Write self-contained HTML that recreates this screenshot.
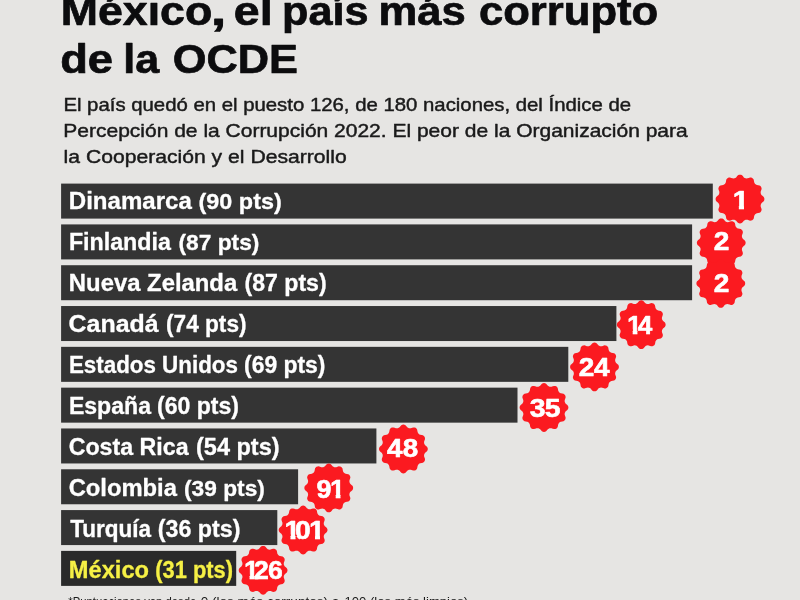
<!DOCTYPE html>
<html lang="es"><head><meta charset="utf-8"><title>México, el país más corrupto de la OCDE</title>
<style>
html,body{margin:0;padding:0;background:#e6e5e3;overflow:hidden}
svg{display:block;font-family:"Liberation Sans",sans-serif}
</style></head><body>
<svg width="800" height="600" viewBox="0 0 800 600">
<rect width="800" height="600" fill="#e6e5e3"/>
<defs><clipPath id="n0"><rect x="-0.45" y="-18.75" width="8.87" height="14.16"/><rect x="3.87" y="-4.69" width="4.55" height="0.60"/><rect x="3.87" y="-4.19" width="4.55" height="0.60"/><rect x="3.87" y="-3.69" width="4.55" height="0.60"/><rect x="3.87" y="-3.19" width="4.55" height="0.60"/><rect x="3.87" y="-2.69" width="4.55" height="0.60"/><rect x="3.87" y="-2.19" width="4.55" height="0.60"/><rect x="3.87" y="-1.69" width="4.55" height="0.60"/><rect x="3.87" y="-1.19" width="4.55" height="0.60"/><rect x="3.87" y="-0.69" width="4.55" height="0.60"/><rect x="3.87" y="-0.19" width="4.55" height="1.70"/></clipPath><clipPath id="n3"><rect x="-0.45" y="-18.75" width="8.87" height="14.16"/><rect x="3.87" y="-4.69" width="4.55" height="0.60"/><rect x="3.87" y="-4.19" width="4.55" height="0.60"/><rect x="3.87" y="-3.69" width="4.55" height="0.60"/><rect x="3.87" y="-3.19" width="4.55" height="0.60"/><rect x="3.87" y="-2.69" width="4.55" height="0.60"/><rect x="3.87" y="-2.19" width="4.55" height="0.60"/><rect x="3.87" y="-1.69" width="4.55" height="0.60"/><rect x="3.87" y="-1.19" width="4.55" height="0.60"/><rect x="3.87" y="-0.69" width="4.55" height="0.60"/><rect x="3.87" y="-0.19" width="4.55" height="1.70"/><rect x="8.62" y="-18.75" width="14.78" height="14.16"/><rect x="8.62" y="-4.69" width="14.78" height="0.60"/><rect x="8.62" y="-4.19" width="14.78" height="0.60"/><rect x="8.62" y="-3.69" width="14.78" height="0.60"/><rect x="16.75" y="-3.19" width="4.28" height="0.60"/><rect x="16.75" y="-2.69" width="4.28" height="0.60"/><rect x="16.75" y="-2.19" width="4.28" height="0.60"/><rect x="16.75" y="-1.69" width="4.28" height="0.60"/><rect x="16.75" y="-1.19" width="4.28" height="0.60"/><rect x="16.75" y="-0.69" width="4.28" height="0.60"/><rect x="16.75" y="-0.19" width="4.28" height="1.70"/></clipPath><clipPath id="n7"><rect x="-0.45" y="-19.00" width="13.40" height="14.41"/><rect x="-0.08" y="-4.69" width="12.65" height="0.60"/><rect x="-0.08" y="-4.19" width="12.53" height="0.60"/><rect x="-0.08" y="-3.69" width="12.28" height="0.60"/><rect x="-0.08" y="-3.19" width="12.15" height="0.60"/><rect x="0.17" y="-2.69" width="11.65" height="0.60"/><rect x="0.30" y="-2.19" width="11.28" height="0.60"/><rect x="0.55" y="-1.69" width="10.65" height="0.60"/><rect x="0.93" y="-1.19" width="9.90" height="0.60"/><rect x="1.43" y="-0.69" width="8.90" height="0.60"/><rect x="2.05" y="-0.19" width="7.53" height="1.70"/><rect x="13.15" y="-19.00" width="8.87" height="14.41"/><rect x="17.47" y="-4.69" width="4.55" height="0.60"/><rect x="17.47" y="-4.19" width="4.55" height="0.60"/><rect x="17.47" y="-3.69" width="4.55" height="0.60"/><rect x="17.47" y="-3.19" width="4.55" height="0.60"/><rect x="17.47" y="-2.69" width="4.55" height="0.60"/><rect x="17.47" y="-2.19" width="4.55" height="0.60"/><rect x="17.47" y="-1.69" width="4.55" height="0.60"/><rect x="17.47" y="-1.19" width="4.55" height="0.60"/><rect x="17.47" y="-0.69" width="4.55" height="0.60"/><rect x="17.47" y="-0.19" width="4.55" height="1.70"/></clipPath><clipPath id="n8"><rect x="-0.45" y="-19.00" width="8.87" height="14.41"/><rect x="3.87" y="-4.69" width="4.55" height="0.60"/><rect x="3.87" y="-4.19" width="4.55" height="0.60"/><rect x="3.87" y="-3.69" width="4.55" height="0.60"/><rect x="3.87" y="-3.19" width="4.55" height="0.60"/><rect x="3.87" y="-2.69" width="4.55" height="0.60"/><rect x="3.87" y="-2.19" width="4.55" height="0.60"/><rect x="3.87" y="-1.69" width="4.55" height="0.60"/><rect x="3.87" y="-1.19" width="4.55" height="0.60"/><rect x="3.87" y="-0.69" width="4.55" height="0.60"/><rect x="3.87" y="-0.19" width="4.55" height="1.70"/><rect x="8.62" y="-19.00" width="13.15" height="14.41"/><rect x="9.00" y="-4.69" width="12.53" height="0.60"/><rect x="9.12" y="-4.19" width="12.28" height="0.60"/><rect x="9.25" y="-3.69" width="11.90" height="0.60"/><rect x="9.37" y="-3.19" width="11.65" height="0.60"/><rect x="9.62" y="-2.69" width="11.15" height="0.60"/><rect x="9.87" y="-2.19" width="10.65" height="0.60"/><rect x="10.12" y="-1.69" width="10.15" height="0.60"/><rect x="10.50" y="-1.19" width="9.40" height="0.60"/><rect x="11.00" y="-0.69" width="8.40" height="0.60"/><rect x="11.62" y="-0.19" width="7.15" height="1.70"/><rect x="21.97" y="-19.00" width="8.87" height="14.41"/><rect x="26.29" y="-4.69" width="4.55" height="0.60"/><rect x="26.29" y="-4.19" width="4.55" height="0.60"/><rect x="26.29" y="-3.69" width="4.55" height="0.60"/><rect x="26.29" y="-3.19" width="4.55" height="0.60"/><rect x="26.29" y="-2.69" width="4.55" height="0.60"/><rect x="26.29" y="-2.19" width="4.55" height="0.60"/><rect x="26.29" y="-1.69" width="4.55" height="0.60"/><rect x="26.29" y="-1.19" width="4.55" height="0.60"/><rect x="26.29" y="-0.69" width="4.55" height="0.60"/><rect x="26.29" y="-0.19" width="4.55" height="1.70"/></clipPath><clipPath id="n9"><rect x="-0.45" y="-19.00" width="8.87" height="14.41"/><rect x="3.87" y="-4.69" width="4.55" height="0.60"/><rect x="3.87" y="-4.19" width="4.55" height="0.60"/><rect x="3.87" y="-3.69" width="4.55" height="0.60"/><rect x="3.87" y="-3.19" width="4.55" height="0.60"/><rect x="3.87" y="-2.69" width="4.55" height="0.60"/><rect x="3.87" y="-2.19" width="4.55" height="0.60"/><rect x="3.87" y="-1.69" width="4.55" height="0.60"/><rect x="3.87" y="-1.19" width="4.55" height="0.60"/><rect x="3.87" y="-0.69" width="4.55" height="0.60"/><rect x="3.87" y="-0.19" width="4.55" height="1.70"/><rect x="8.62" y="-19.00" width="13.40" height="14.41"/><rect x="9.25" y="-4.69" width="6.15" height="0.60"/><rect x="8.87" y="-4.19" width="6.03" height="0.60"/><rect x="8.62" y="-3.69" width="13.40" height="0.60"/><rect x="8.62" y="-3.19" width="13.40" height="0.60"/><rect x="8.62" y="-2.69" width="13.40" height="0.60"/><rect x="8.62" y="-2.19" width="13.40" height="0.60"/><rect x="8.62" y="-1.69" width="13.40" height="0.60"/><rect x="8.62" y="-1.19" width="13.40" height="0.60"/><rect x="8.62" y="-0.69" width="13.40" height="0.60"/><rect x="8.62" y="-0.19" width="13.40" height="1.70"/><rect x="22.22" y="-19.00" width="13.40" height="14.41"/><rect x="22.60" y="-4.69" width="13.03" height="0.60"/><rect x="22.72" y="-4.19" width="12.90" height="0.60"/><rect x="22.85" y="-3.69" width="12.65" height="0.60"/><rect x="23.10" y="-3.19" width="12.28" height="0.60"/><rect x="23.22" y="-2.69" width="12.03" height="0.60"/><rect x="23.60" y="-2.19" width="11.40" height="0.60"/><rect x="23.85" y="-1.69" width="10.78" height="0.60"/><rect x="24.35" y="-1.19" width="9.90" height="0.60"/><rect x="24.85" y="-0.69" width="8.90" height="0.60"/><rect x="25.47" y="-0.19" width="7.65" height="1.70"/></clipPath></defs>
<rect x="61.1" y="183.60" width="651.70" height="35.0" fill="#343434"/>
<rect x="61.1" y="224.41" width="631.00" height="35.0" fill="#343434"/>
<rect x="61.1" y="265.22" width="631.00" height="35.0" fill="#343434"/>
<rect x="61.1" y="306.03" width="555.30" height="35.0" fill="#343434"/>
<rect x="61.1" y="346.84" width="507.20" height="35.0" fill="#343434"/>
<rect x="61.1" y="387.65" width="456.40" height="35.0" fill="#343434"/>
<rect x="61.1" y="428.46" width="315.30" height="35.0" fill="#343434"/>
<rect x="61.1" y="469.27" width="237.00" height="35.0" fill="#343434"/>
<rect x="61.1" y="510.08" width="216.20" height="35.0" fill="#343434"/>
<rect x="61.1" y="550.89" width="175.10" height="35.0" fill="#2a2a2a"/>
<text transform="translate(60.70,24.50) scale(1.1096,1)" font-weight="bold" font-size="40.3" fill="#0c0c0e" stroke="#0c0c0e" stroke-width="0.7" stroke-linejoin="round">México</text>
<text transform="translate(210.67,24.50) scale(1.3913,1)" font-weight="bold" font-size="40.3" fill="#0c0c0e" stroke="#0c0c0e" stroke-width="0.7" stroke-linejoin="round">,</text>
<text transform="translate(233.87,24.50) scale(1.1556,1)" font-weight="bold" font-size="40.3" fill="#0c0c0e" stroke="#0c0c0e" stroke-width="0.7" stroke-linejoin="round">el</text>
<text transform="translate(282.05,24.50) scale(1.0728,1)" font-weight="bold" font-size="40.3" fill="#0c0c0e" stroke="#0c0c0e" stroke-width="0.7" stroke-linejoin="round">país</text>
<text transform="translate(378.52,24.50) scale(1.0820,1)" font-weight="bold" font-size="40.3" fill="#0c0c0e" stroke="#0c0c0e" stroke-width="0.7" stroke-linejoin="round">más</text>
<text transform="translate(478.88,24.50) scale(1.0831,1)" font-weight="bold" font-size="40.3" fill="#0c0c0e" stroke="#0c0c0e" stroke-width="0.7" stroke-linejoin="round">corrupto</text>
<text transform="translate(60.13,72.70) scale(1.1250,1)" font-weight="bold" font-size="40.3" fill="#0c0c0e" stroke="#0c0c0e" stroke-width="0.7" stroke-linejoin="round">de</text>
<text transform="translate(123.32,72.70) scale(1.0672,1)" font-weight="bold" font-size="40.3" fill="#0c0c0e" stroke="#0c0c0e" stroke-width="0.7" stroke-linejoin="round">la</text>
<text transform="translate(172.72,72.70) scale(1.0764,1)" font-weight="bold" font-size="40.3" fill="#0c0c0e" stroke="#0c0c0e" stroke-width="0.7" stroke-linejoin="round">OCDE</text>
<text transform="translate(63.38,111.00) scale(1.0828,1)" font-weight="normal" font-size="18.8" fill="#1a1a1a" stroke="#1a1a1a" stroke-width="0.45" stroke-linejoin="round">El país quedó en el puesto 126, de 180 naciones, del Índice de</text>
<text transform="translate(63.32,137.20) scale(1.1175,1)" font-weight="normal" font-size="18.8" fill="#1a1a1a" stroke="#1a1a1a" stroke-width="0.45" stroke-linejoin="round">Percepción de la Corrupción 2022. El peor de la Organización para</text>
<text transform="translate(63.59,163.40) scale(1.1243,1)" font-weight="normal" font-size="18.8" fill="#1a1a1a" stroke="#1a1a1a" stroke-width="0.45" stroke-linejoin="round">la Cooperación y el Desarrollo</text>
<text transform="translate(68.83,209.00) scale(1.0460,1)" font-weight="bold" font-size="23.0" fill="#ffffff" stroke="#ffffff" stroke-width="0.3" stroke-linejoin="round">Dinamarca</text>
<text transform="translate(198.48,209.00) scale(1.0188,1)" font-weight="bold" font-size="23.0" fill="#ffffff" stroke="#ffffff" stroke-width="0.3" stroke-linejoin="round">(90 pts)</text>
<text transform="translate(68.88,250.00) scale(1.0110,1)" font-weight="bold" font-size="23.0" fill="#ffffff" stroke="#ffffff" stroke-width="0.3" stroke-linejoin="round">Finlandia</text>
<text transform="translate(178.51,250.00) scale(0.9893,1)" font-weight="bold" font-size="23.0" fill="#ffffff" stroke="#ffffff" stroke-width="0.3" stroke-linejoin="round">(87 pts)</text>
<text transform="translate(68.84,291.00) scale(1.0379,1)" font-weight="bold" font-size="23.0" fill="#ffffff" stroke="#ffffff" stroke-width="0.3" stroke-linejoin="round">Nueva Zelanda</text>
<text transform="translate(244.50,291.00) scale(1.0044,1)" font-weight="bold" font-size="23.0" fill="#ffffff" stroke="#ffffff" stroke-width="0.3" stroke-linejoin="round">(87 pts)</text>
<text transform="translate(68.62,332.00) scale(1.0827,1)" font-weight="bold" font-size="23.0" fill="#ffffff" stroke="#ffffff" stroke-width="0.3" stroke-linejoin="round">Canadá</text>
<text transform="translate(166.02,332.00) scale(0.9843,1)" font-weight="bold" font-size="23.0" fill="#ffffff" stroke="#ffffff" stroke-width="0.3" stroke-linejoin="round">(74 pts)</text>
<text transform="translate(68.94,373.00) scale(0.9728,1)" font-weight="bold" font-size="23.0" fill="#ffffff" stroke="#ffffff" stroke-width="0.3" stroke-linejoin="round">Estados Unidos</text>
<text transform="translate(244.00,373.00) scale(0.9969,1)" font-weight="bold" font-size="23.0" fill="#ffffff" stroke="#ffffff" stroke-width="0.3" stroke-linejoin="round">(69 pts)</text>
<text transform="translate(68.89,414.00) scale(1.0043,1)" font-weight="bold" font-size="23.0" fill="#ffffff" stroke="#ffffff" stroke-width="0.3" stroke-linejoin="round">España</text>
<text transform="translate(157.00,414.00) scale(1.0031,1)" font-weight="bold" font-size="23.0" fill="#ffffff" stroke="#ffffff" stroke-width="0.3" stroke-linejoin="round">(60 pts)</text>
<text transform="translate(68.69,455.00) scale(1.0089,1)" font-weight="bold" font-size="23.0" fill="#ffffff" stroke="#ffffff" stroke-width="0.3" stroke-linejoin="round">Costa Rica</text>
<text transform="translate(195.98,455.00) scale(1.0232,1)" font-weight="bold" font-size="23.0" fill="#ffffff" stroke="#ffffff" stroke-width="0.3" stroke-linejoin="round">(54 pts)</text>
<text transform="translate(68.67,496.00) scale(1.0341,1)" font-weight="bold" font-size="23.0" fill="#ffffff" stroke="#ffffff" stroke-width="0.3" stroke-linejoin="round">Colombia</text>
<text transform="translate(184.01,496.00) scale(0.9893,1)" font-weight="bold" font-size="23.0" fill="#ffffff" stroke="#ffffff" stroke-width="0.3" stroke-linejoin="round">(39 pts)</text>
<text transform="translate(70.16,537.00) scale(0.9800,1)" font-weight="bold" font-size="23.0" fill="#ffffff" stroke="#ffffff" stroke-width="0.3" stroke-linejoin="round">Turquía</text>
<text transform="translate(157.74,537.00) scale(1.0125,1)" font-weight="bold" font-size="23.0" fill="#ffffff" stroke="#ffffff" stroke-width="0.3" stroke-linejoin="round">(36 pts)</text>
<text transform="translate(68.86,578.00) scale(1.0278,1)" font-weight="bold" font-size="23.0" fill="#f6f045" stroke="#f6f045" stroke-width="0.3" stroke-linejoin="round">México</text>
<text transform="translate(155.30,578.00) scale(0.9498,1)" font-weight="bold" font-size="23.0" fill="#f6f045" stroke="#f6f045" stroke-width="0.3" stroke-linejoin="round">(31 pts)</text>
<path d="M740.00,174.70 L741.06,174.86 L742.08,175.35 L743.00,176.35 L743.83,177.38 L744.68,177.97 L745.56,178.33 L746.51,178.46 L747.54,178.37 L748.78,177.90 L750.08,177.49 L751.20,177.58 L752.20,177.97 L753.04,178.64 L753.68,179.57 L753.97,180.89 L754.18,182.20 L754.62,183.15 L755.20,183.90 L755.95,184.48 L756.90,184.92 L758.21,185.13 L759.53,185.42 L760.46,186.06 L761.13,186.90 L761.52,187.90 L761.61,189.02 L761.20,190.32 L760.73,191.56 L760.64,192.59 L760.77,193.54 L761.13,194.42 L761.72,195.27 L762.75,196.10 L763.75,197.02 L764.24,198.04 L764.40,199.10 L764.24,200.16 L763.75,201.18 L762.75,202.10 L761.72,202.93 L761.13,203.78 L760.77,204.66 L760.64,205.61 L760.73,206.64 L761.20,207.88 L761.61,209.18 L761.52,210.30 L761.13,211.30 L760.46,212.14 L759.53,212.78 L758.21,213.07 L756.90,213.28 L755.95,213.72 L755.20,214.30 L754.62,215.05 L754.18,216.00 L753.97,217.31 L753.68,218.63 L753.04,219.56 L752.20,220.23 L751.20,220.62 L750.08,220.71 L748.78,220.30 L747.54,219.83 L746.51,219.74 L745.56,219.87 L744.68,220.23 L743.83,220.82 L743.00,221.85 L742.08,222.85 L741.06,223.34 L740.00,223.50 L738.94,223.34 L737.92,222.85 L737.00,221.85 L736.17,220.82 L735.32,220.23 L734.44,219.87 L733.49,219.74 L732.46,219.83 L731.22,220.30 L729.92,220.71 L728.80,220.62 L727.80,220.23 L726.96,219.56 L726.32,218.63 L726.03,217.31 L725.82,216.00 L725.38,215.05 L724.80,214.30 L724.05,213.72 L723.10,213.28 L721.79,213.07 L720.47,212.78 L719.54,212.14 L718.87,211.30 L718.48,210.30 L718.39,209.18 L718.80,207.88 L719.27,206.64 L719.36,205.61 L719.23,204.66 L718.87,203.78 L718.28,202.93 L717.25,202.10 L716.25,201.18 L715.76,200.16 L715.60,199.10 L715.76,198.04 L716.25,197.02 L717.25,196.10 L718.28,195.27 L718.87,194.42 L719.23,193.54 L719.36,192.59 L719.27,191.56 L718.80,190.32 L718.39,189.02 L718.48,187.90 L718.87,186.90 L719.54,186.06 L720.47,185.42 L721.79,185.13 L723.10,184.92 L724.05,184.48 L724.80,183.90 L725.38,183.15 L725.82,182.20 L726.03,180.89 L726.32,179.57 L726.96,178.64 L727.80,177.97 L728.80,177.58 L729.92,177.49 L731.22,177.90 L732.46,178.37 L733.49,178.46 L734.44,178.33 L735.32,177.97 L736.17,177.38 L737.00,176.35 L737.92,175.35 L738.94,174.86Z" fill="#fb1a20"/>
<path d="M721.25,218.40 L722.31,218.56 L723.33,219.05 L724.25,220.05 L725.08,221.08 L725.93,221.67 L726.81,222.03 L727.76,222.16 L728.79,222.07 L730.03,221.60 L731.33,221.19 L732.45,221.28 L733.45,221.67 L734.29,222.34 L734.93,223.27 L735.22,224.59 L735.43,225.90 L735.87,226.85 L736.45,227.60 L737.20,228.18 L738.15,228.62 L739.46,228.83 L740.78,229.12 L741.71,229.76 L742.38,230.60 L742.77,231.60 L742.86,232.72 L742.45,234.02 L741.98,235.26 L741.89,236.29 L742.02,237.24 L742.38,238.12 L742.97,238.97 L744.00,239.80 L745.00,240.72 L745.49,241.74 L745.65,242.80 L745.49,243.86 L745.00,244.88 L744.00,245.80 L742.97,246.63 L742.38,247.48 L742.02,248.36 L741.89,249.31 L741.98,250.34 L742.45,251.58 L742.86,252.88 L742.77,254.00 L742.38,255.00 L741.71,255.84 L740.78,256.48 L739.46,256.77 L738.15,256.98 L737.20,257.42 L736.45,258.00 L735.87,258.75 L735.43,259.70 L735.22,261.01 L734.93,262.33 L734.29,263.26 L733.45,263.93 L732.45,264.32 L731.33,264.41 L730.03,264.00 L728.79,263.53 L727.76,263.44 L726.81,263.57 L725.93,263.93 L725.08,264.52 L724.25,265.55 L723.33,266.55 L722.31,267.04 L721.25,267.20 L720.19,267.04 L719.17,266.55 L718.25,265.55 L717.42,264.52 L716.57,263.93 L715.69,263.57 L714.74,263.44 L713.71,263.53 L712.47,264.00 L711.17,264.41 L710.05,264.32 L709.05,263.93 L708.21,263.26 L707.57,262.33 L707.28,261.01 L707.07,259.70 L706.63,258.75 L706.05,258.00 L705.30,257.42 L704.35,256.98 L703.04,256.77 L701.72,256.48 L700.79,255.84 L700.12,255.00 L699.73,254.00 L699.64,252.88 L700.05,251.58 L700.52,250.34 L700.61,249.31 L700.48,248.36 L700.12,247.48 L699.53,246.63 L698.50,245.80 L697.50,244.88 L697.01,243.86 L696.85,242.80 L697.01,241.74 L697.50,240.72 L698.50,239.80 L699.53,238.97 L700.12,238.12 L700.48,237.24 L700.61,236.29 L700.52,235.26 L700.05,234.02 L699.64,232.72 L699.73,231.60 L700.12,230.60 L700.79,229.76 L701.72,229.12 L703.04,228.83 L704.35,228.62 L705.30,228.18 L706.05,227.60 L706.63,226.85 L707.07,225.90 L707.28,224.59 L707.57,223.27 L708.21,222.34 L709.05,221.67 L710.05,221.28 L711.17,221.19 L712.47,221.60 L713.71,222.07 L714.74,222.16 L715.69,222.03 L716.57,221.67 L717.42,221.08 L718.25,220.05 L719.17,219.05 L720.19,218.56Z" fill="#fb1a20"/>
<path d="M720.80,259.00 L721.86,259.16 L722.88,259.65 L723.80,260.65 L724.63,261.68 L725.48,262.27 L726.36,262.63 L727.31,262.76 L728.34,262.67 L729.58,262.20 L730.88,261.79 L732.00,261.88 L733.00,262.27 L733.84,262.94 L734.48,263.87 L734.77,265.19 L734.98,266.50 L735.42,267.45 L736.00,268.20 L736.75,268.78 L737.70,269.22 L739.01,269.43 L740.33,269.72 L741.26,270.36 L741.93,271.20 L742.32,272.20 L742.41,273.32 L742.00,274.62 L741.53,275.86 L741.44,276.89 L741.57,277.84 L741.93,278.72 L742.52,279.57 L743.55,280.40 L744.55,281.32 L745.04,282.34 L745.20,283.40 L745.04,284.46 L744.55,285.48 L743.55,286.40 L742.52,287.23 L741.93,288.08 L741.57,288.96 L741.44,289.91 L741.53,290.94 L742.00,292.18 L742.41,293.48 L742.32,294.60 L741.93,295.60 L741.26,296.44 L740.33,297.08 L739.01,297.37 L737.70,297.58 L736.75,298.02 L736.00,298.60 L735.42,299.35 L734.98,300.30 L734.77,301.61 L734.48,302.93 L733.84,303.86 L733.00,304.53 L732.00,304.92 L730.88,305.01 L729.58,304.60 L728.34,304.13 L727.31,304.04 L726.36,304.17 L725.48,304.53 L724.63,305.12 L723.80,306.15 L722.88,307.15 L721.86,307.64 L720.80,307.80 L719.74,307.64 L718.72,307.15 L717.80,306.15 L716.97,305.12 L716.12,304.53 L715.24,304.17 L714.29,304.04 L713.26,304.13 L712.02,304.60 L710.72,305.01 L709.60,304.92 L708.60,304.53 L707.76,303.86 L707.12,302.93 L706.83,301.61 L706.62,300.30 L706.18,299.35 L705.60,298.60 L704.85,298.02 L703.90,297.58 L702.59,297.37 L701.27,297.08 L700.34,296.44 L699.67,295.60 L699.28,294.60 L699.19,293.48 L699.60,292.18 L700.07,290.94 L700.16,289.91 L700.03,288.96 L699.67,288.08 L699.08,287.23 L698.05,286.40 L697.05,285.48 L696.56,284.46 L696.40,283.40 L696.56,282.34 L697.05,281.32 L698.05,280.40 L699.08,279.57 L699.67,278.72 L700.03,277.84 L700.16,276.89 L700.07,275.86 L699.60,274.62 L699.19,273.32 L699.28,272.20 L699.67,271.20 L700.34,270.36 L701.27,269.72 L702.59,269.43 L703.90,269.22 L704.85,268.78 L705.60,268.20 L706.18,267.45 L706.62,266.50 L706.83,265.19 L707.12,263.87 L707.76,262.94 L708.60,262.27 L709.60,261.88 L710.72,261.79 L712.02,262.20 L713.26,262.67 L714.29,262.76 L715.24,262.63 L716.12,262.27 L716.97,261.68 L717.80,260.65 L718.72,259.65 L719.74,259.16Z" fill="#fb1a20"/>
<path d="M641.25,300.30 L642.31,300.46 L643.33,300.95 L644.25,301.95 L645.08,302.98 L645.93,303.57 L646.81,303.93 L647.76,304.06 L648.79,303.97 L650.03,303.50 L651.33,303.09 L652.45,303.18 L653.45,303.57 L654.29,304.24 L654.93,305.17 L655.22,306.49 L655.43,307.80 L655.87,308.75 L656.45,309.50 L657.20,310.08 L658.15,310.52 L659.46,310.73 L660.78,311.02 L661.71,311.66 L662.38,312.50 L662.77,313.50 L662.86,314.62 L662.45,315.92 L661.98,317.16 L661.89,318.19 L662.02,319.14 L662.38,320.02 L662.97,320.87 L664.00,321.70 L665.00,322.62 L665.49,323.64 L665.65,324.70 L665.49,325.76 L665.00,326.78 L664.00,327.70 L662.97,328.53 L662.38,329.38 L662.02,330.26 L661.89,331.21 L661.98,332.24 L662.45,333.48 L662.86,334.78 L662.77,335.90 L662.38,336.90 L661.71,337.74 L660.78,338.38 L659.46,338.67 L658.15,338.88 L657.20,339.32 L656.45,339.90 L655.87,340.65 L655.43,341.60 L655.22,342.91 L654.93,344.23 L654.29,345.16 L653.45,345.83 L652.45,346.22 L651.33,346.31 L650.03,345.90 L648.79,345.43 L647.76,345.34 L646.81,345.47 L645.93,345.83 L645.08,346.42 L644.25,347.45 L643.33,348.45 L642.31,348.94 L641.25,349.10 L640.19,348.94 L639.17,348.45 L638.25,347.45 L637.42,346.42 L636.57,345.83 L635.69,345.47 L634.74,345.34 L633.71,345.43 L632.47,345.90 L631.17,346.31 L630.05,346.22 L629.05,345.83 L628.21,345.16 L627.57,344.23 L627.28,342.91 L627.07,341.60 L626.63,340.65 L626.05,339.90 L625.30,339.32 L624.35,338.88 L623.04,338.67 L621.72,338.38 L620.79,337.74 L620.12,336.90 L619.73,335.90 L619.64,334.78 L620.05,333.48 L620.52,332.24 L620.61,331.21 L620.48,330.26 L620.12,329.38 L619.53,328.53 L618.50,327.70 L617.50,326.78 L617.01,325.76 L616.85,324.70 L617.01,323.64 L617.50,322.62 L618.50,321.70 L619.53,320.87 L620.12,320.02 L620.48,319.14 L620.61,318.19 L620.52,317.16 L620.05,315.92 L619.64,314.62 L619.73,313.50 L620.12,312.50 L620.79,311.66 L621.72,311.02 L623.04,310.73 L624.35,310.52 L625.30,310.08 L626.05,309.50 L626.63,308.75 L627.07,307.80 L627.28,306.49 L627.57,305.17 L628.21,304.24 L629.05,303.57 L630.05,303.18 L631.17,303.09 L632.47,303.50 L633.71,303.97 L634.74,304.06 L635.69,303.93 L636.57,303.57 L637.42,302.98 L638.25,301.95 L639.17,300.95 L640.19,300.46Z" fill="#fb1a20"/>
<path d="M594.50,342.50 L595.56,342.66 L596.58,343.15 L597.50,344.15 L598.33,345.18 L599.18,345.77 L600.06,346.13 L601.01,346.26 L602.04,346.17 L603.28,345.70 L604.58,345.29 L605.70,345.38 L606.70,345.77 L607.54,346.44 L608.18,347.37 L608.47,348.69 L608.68,350.00 L609.12,350.95 L609.70,351.70 L610.45,352.28 L611.40,352.72 L612.71,352.93 L614.03,353.22 L614.96,353.86 L615.63,354.70 L616.02,355.70 L616.11,356.82 L615.70,358.12 L615.23,359.36 L615.14,360.39 L615.27,361.34 L615.63,362.22 L616.22,363.07 L617.25,363.90 L618.25,364.82 L618.74,365.84 L618.90,366.90 L618.74,367.96 L618.25,368.98 L617.25,369.90 L616.22,370.73 L615.63,371.58 L615.27,372.46 L615.14,373.41 L615.23,374.44 L615.70,375.68 L616.11,376.98 L616.02,378.10 L615.63,379.10 L614.96,379.94 L614.03,380.58 L612.71,380.87 L611.40,381.08 L610.45,381.52 L609.70,382.10 L609.12,382.85 L608.68,383.80 L608.47,385.11 L608.18,386.43 L607.54,387.36 L606.70,388.03 L605.70,388.42 L604.58,388.51 L603.28,388.10 L602.04,387.63 L601.01,387.54 L600.06,387.67 L599.18,388.03 L598.33,388.62 L597.50,389.65 L596.58,390.65 L595.56,391.14 L594.50,391.30 L593.44,391.14 L592.42,390.65 L591.50,389.65 L590.67,388.62 L589.82,388.03 L588.94,387.67 L587.99,387.54 L586.96,387.63 L585.72,388.10 L584.42,388.51 L583.30,388.42 L582.30,388.03 L581.46,387.36 L580.82,386.43 L580.53,385.11 L580.32,383.80 L579.88,382.85 L579.30,382.10 L578.55,381.52 L577.60,381.08 L576.29,380.87 L574.97,380.58 L574.04,379.94 L573.37,379.10 L572.98,378.10 L572.89,376.98 L573.30,375.68 L573.77,374.44 L573.86,373.41 L573.73,372.46 L573.37,371.58 L572.78,370.73 L571.75,369.90 L570.75,368.98 L570.26,367.96 L570.10,366.90 L570.26,365.84 L570.75,364.82 L571.75,363.90 L572.78,363.07 L573.37,362.22 L573.73,361.34 L573.86,360.39 L573.77,359.36 L573.30,358.12 L572.89,356.82 L572.98,355.70 L573.37,354.70 L574.04,353.86 L574.97,353.22 L576.29,352.93 L577.60,352.72 L578.55,352.28 L579.30,351.70 L579.88,350.95 L580.32,350.00 L580.53,348.69 L580.82,347.37 L581.46,346.44 L582.30,345.77 L583.30,345.38 L584.42,345.29 L585.72,345.70 L586.96,346.17 L587.99,346.26 L588.94,346.13 L589.82,345.77 L590.67,345.18 L591.50,344.15 L592.42,343.15 L593.44,342.66Z" fill="#fb1a20"/>
<path d="M544.00,383.10 L545.06,383.26 L546.08,383.75 L547.00,384.75 L547.83,385.78 L548.68,386.37 L549.56,386.73 L550.51,386.86 L551.54,386.77 L552.78,386.30 L554.08,385.89 L555.20,385.98 L556.20,386.37 L557.04,387.04 L557.68,387.97 L557.97,389.29 L558.18,390.60 L558.62,391.55 L559.20,392.30 L559.95,392.88 L560.90,393.32 L562.21,393.53 L563.53,393.82 L564.46,394.46 L565.13,395.30 L565.52,396.30 L565.61,397.42 L565.20,398.72 L564.73,399.96 L564.64,400.99 L564.77,401.94 L565.13,402.82 L565.72,403.67 L566.75,404.50 L567.75,405.42 L568.24,406.44 L568.40,407.50 L568.24,408.56 L567.75,409.58 L566.75,410.50 L565.72,411.33 L565.13,412.18 L564.77,413.06 L564.64,414.01 L564.73,415.04 L565.20,416.28 L565.61,417.58 L565.52,418.70 L565.13,419.70 L564.46,420.54 L563.53,421.18 L562.21,421.47 L560.90,421.68 L559.95,422.12 L559.20,422.70 L558.62,423.45 L558.18,424.40 L557.97,425.71 L557.68,427.03 L557.04,427.96 L556.20,428.63 L555.20,429.02 L554.08,429.11 L552.78,428.70 L551.54,428.23 L550.51,428.14 L549.56,428.27 L548.68,428.63 L547.83,429.22 L547.00,430.25 L546.08,431.25 L545.06,431.74 L544.00,431.90 L542.94,431.74 L541.92,431.25 L541.00,430.25 L540.17,429.22 L539.32,428.63 L538.44,428.27 L537.49,428.14 L536.46,428.23 L535.22,428.70 L533.92,429.11 L532.80,429.02 L531.80,428.63 L530.96,427.96 L530.32,427.03 L530.03,425.71 L529.82,424.40 L529.38,423.45 L528.80,422.70 L528.05,422.12 L527.10,421.68 L525.79,421.47 L524.47,421.18 L523.54,420.54 L522.87,419.70 L522.48,418.70 L522.39,417.58 L522.80,416.28 L523.27,415.04 L523.36,414.01 L523.23,413.06 L522.87,412.18 L522.28,411.33 L521.25,410.50 L520.25,409.58 L519.76,408.56 L519.60,407.50 L519.76,406.44 L520.25,405.42 L521.25,404.50 L522.28,403.67 L522.87,402.82 L523.23,401.94 L523.36,400.99 L523.27,399.96 L522.80,398.72 L522.39,397.42 L522.48,396.30 L522.87,395.30 L523.54,394.46 L524.47,393.82 L525.79,393.53 L527.10,393.32 L528.05,392.88 L528.80,392.30 L529.38,391.55 L529.82,390.60 L530.03,389.29 L530.32,387.97 L530.96,387.04 L531.80,386.37 L532.80,385.98 L533.92,385.89 L535.22,386.30 L536.46,386.77 L537.49,386.86 L538.44,386.73 L539.32,386.37 L540.17,385.78 L541.00,384.75 L541.92,383.75 L542.94,383.26Z" fill="#fb1a20"/>
<path d="M403.40,424.60 L404.46,424.76 L405.48,425.25 L406.40,426.25 L407.23,427.28 L408.08,427.87 L408.96,428.23 L409.91,428.36 L410.94,428.27 L412.18,427.80 L413.48,427.39 L414.60,427.48 L415.60,427.87 L416.44,428.54 L417.08,429.47 L417.37,430.79 L417.58,432.10 L418.02,433.05 L418.60,433.80 L419.35,434.38 L420.30,434.82 L421.61,435.03 L422.93,435.32 L423.86,435.96 L424.53,436.80 L424.92,437.80 L425.01,438.92 L424.60,440.22 L424.13,441.46 L424.04,442.49 L424.17,443.44 L424.53,444.32 L425.12,445.17 L426.15,446.00 L427.15,446.92 L427.64,447.94 L427.80,449.00 L427.64,450.06 L427.15,451.08 L426.15,452.00 L425.12,452.83 L424.53,453.68 L424.17,454.56 L424.04,455.51 L424.13,456.54 L424.60,457.78 L425.01,459.08 L424.92,460.20 L424.53,461.20 L423.86,462.04 L422.93,462.68 L421.61,462.97 L420.30,463.18 L419.35,463.62 L418.60,464.20 L418.02,464.95 L417.58,465.90 L417.37,467.21 L417.08,468.53 L416.44,469.46 L415.60,470.13 L414.60,470.52 L413.48,470.61 L412.18,470.20 L410.94,469.73 L409.91,469.64 L408.96,469.77 L408.08,470.13 L407.23,470.72 L406.40,471.75 L405.48,472.75 L404.46,473.24 L403.40,473.40 L402.34,473.24 L401.32,472.75 L400.40,471.75 L399.57,470.72 L398.72,470.13 L397.84,469.77 L396.89,469.64 L395.86,469.73 L394.62,470.20 L393.32,470.61 L392.20,470.52 L391.20,470.13 L390.36,469.46 L389.72,468.53 L389.43,467.21 L389.22,465.90 L388.78,464.95 L388.20,464.20 L387.45,463.62 L386.50,463.18 L385.19,462.97 L383.87,462.68 L382.94,462.04 L382.27,461.20 L381.88,460.20 L381.79,459.08 L382.20,457.78 L382.67,456.54 L382.76,455.51 L382.63,454.56 L382.27,453.68 L381.68,452.83 L380.65,452.00 L379.65,451.08 L379.16,450.06 L379.00,449.00 L379.16,447.94 L379.65,446.92 L380.65,446.00 L381.68,445.17 L382.27,444.32 L382.63,443.44 L382.76,442.49 L382.67,441.46 L382.20,440.22 L381.79,438.92 L381.88,437.80 L382.27,436.80 L382.94,435.96 L383.87,435.32 L385.19,435.03 L386.50,434.82 L387.45,434.38 L388.20,433.80 L388.78,433.05 L389.22,432.10 L389.43,430.79 L389.72,429.47 L390.36,428.54 L391.20,427.87 L392.20,427.48 L393.32,427.39 L394.62,427.80 L395.86,428.27 L396.89,428.36 L397.84,428.23 L398.72,427.87 L399.57,427.28 L400.40,426.25 L401.32,425.25 L402.34,424.76Z" fill="#fb1a20"/>
<path d="M328.75,463.50 L329.81,463.66 L330.83,464.15 L331.75,465.15 L332.58,466.18 L333.43,466.77 L334.31,467.13 L335.26,467.26 L336.29,467.17 L337.53,466.70 L338.83,466.29 L339.95,466.38 L340.95,466.77 L341.79,467.44 L342.43,468.37 L342.72,469.69 L342.93,471.00 L343.37,471.95 L343.95,472.70 L344.70,473.28 L345.65,473.72 L346.96,473.93 L348.28,474.22 L349.21,474.86 L349.88,475.70 L350.27,476.70 L350.36,477.82 L349.95,479.12 L349.48,480.36 L349.39,481.39 L349.52,482.34 L349.88,483.22 L350.47,484.07 L351.50,484.90 L352.50,485.82 L352.99,486.84 L353.15,487.90 L352.99,488.96 L352.50,489.98 L351.50,490.90 L350.47,491.73 L349.88,492.58 L349.52,493.46 L349.39,494.41 L349.48,495.44 L349.95,496.68 L350.36,497.98 L350.27,499.10 L349.88,500.10 L349.21,500.94 L348.28,501.58 L346.96,501.87 L345.65,502.08 L344.70,502.52 L343.95,503.10 L343.37,503.85 L342.93,504.80 L342.72,506.11 L342.43,507.43 L341.79,508.36 L340.95,509.03 L339.95,509.42 L338.83,509.51 L337.53,509.10 L336.29,508.63 L335.26,508.54 L334.31,508.67 L333.43,509.03 L332.58,509.62 L331.75,510.65 L330.83,511.65 L329.81,512.14 L328.75,512.30 L327.69,512.14 L326.67,511.65 L325.75,510.65 L324.92,509.62 L324.07,509.03 L323.19,508.67 L322.24,508.54 L321.21,508.63 L319.97,509.10 L318.67,509.51 L317.55,509.42 L316.55,509.03 L315.71,508.36 L315.07,507.43 L314.78,506.11 L314.57,504.80 L314.13,503.85 L313.55,503.10 L312.80,502.52 L311.85,502.08 L310.54,501.87 L309.22,501.58 L308.29,500.94 L307.62,500.10 L307.23,499.10 L307.14,497.98 L307.55,496.68 L308.02,495.44 L308.11,494.41 L307.98,493.46 L307.62,492.58 L307.03,491.73 L306.00,490.90 L305.00,489.98 L304.51,488.96 L304.35,487.90 L304.51,486.84 L305.00,485.82 L306.00,484.90 L307.03,484.07 L307.62,483.22 L307.98,482.34 L308.11,481.39 L308.02,480.36 L307.55,479.12 L307.14,477.82 L307.23,476.70 L307.62,475.70 L308.29,474.86 L309.22,474.22 L310.54,473.93 L311.85,473.72 L312.80,473.28 L313.55,472.70 L314.13,471.95 L314.57,471.00 L314.78,469.69 L315.07,468.37 L315.71,467.44 L316.55,466.77 L317.55,466.38 L318.67,466.29 L319.97,466.70 L321.21,467.17 L322.24,467.26 L323.19,467.13 L324.07,466.77 L324.92,466.18 L325.75,465.15 L326.67,464.15 L327.69,463.66Z" fill="#fb1a20"/>
<path d="M303.10,505.60 L304.16,505.76 L305.18,506.25 L306.10,507.25 L306.93,508.28 L307.78,508.87 L308.66,509.23 L309.61,509.36 L310.64,509.27 L311.88,508.80 L313.18,508.39 L314.30,508.48 L315.30,508.87 L316.14,509.54 L316.78,510.47 L317.07,511.79 L317.28,513.10 L317.72,514.05 L318.30,514.80 L319.05,515.38 L320.00,515.82 L321.31,516.03 L322.63,516.32 L323.56,516.96 L324.23,517.80 L324.62,518.80 L324.71,519.92 L324.30,521.22 L323.83,522.46 L323.74,523.49 L323.87,524.44 L324.23,525.32 L324.82,526.17 L325.85,527.00 L326.85,527.92 L327.34,528.94 L327.50,530.00 L327.34,531.06 L326.85,532.08 L325.85,533.00 L324.82,533.83 L324.23,534.68 L323.87,535.56 L323.74,536.51 L323.83,537.54 L324.30,538.78 L324.71,540.08 L324.62,541.20 L324.23,542.20 L323.56,543.04 L322.63,543.68 L321.31,543.97 L320.00,544.18 L319.05,544.62 L318.30,545.20 L317.72,545.95 L317.28,546.90 L317.07,548.21 L316.78,549.53 L316.14,550.46 L315.30,551.13 L314.30,551.52 L313.18,551.61 L311.88,551.20 L310.64,550.73 L309.61,550.64 L308.66,550.77 L307.78,551.13 L306.93,551.72 L306.10,552.75 L305.18,553.75 L304.16,554.24 L303.10,554.40 L302.04,554.24 L301.02,553.75 L300.10,552.75 L299.27,551.72 L298.42,551.13 L297.54,550.77 L296.59,550.64 L295.56,550.73 L294.32,551.20 L293.02,551.61 L291.90,551.52 L290.90,551.13 L290.06,550.46 L289.42,549.53 L289.13,548.21 L288.92,546.90 L288.48,545.95 L287.90,545.20 L287.15,544.62 L286.20,544.18 L284.89,543.97 L283.57,543.68 L282.64,543.04 L281.97,542.20 L281.58,541.20 L281.49,540.08 L281.90,538.78 L282.37,537.54 L282.46,536.51 L282.33,535.56 L281.97,534.68 L281.38,533.83 L280.35,533.00 L279.35,532.08 L278.86,531.06 L278.70,530.00 L278.86,528.94 L279.35,527.92 L280.35,527.00 L281.38,526.17 L281.97,525.32 L282.33,524.44 L282.46,523.49 L282.37,522.46 L281.90,521.22 L281.49,519.92 L281.58,518.80 L281.97,517.80 L282.64,516.96 L283.57,516.32 L284.89,516.03 L286.20,515.82 L287.15,515.38 L287.90,514.80 L288.48,514.05 L288.92,513.10 L289.13,511.79 L289.42,510.47 L290.06,509.54 L290.90,508.87 L291.90,508.48 L293.02,508.39 L294.32,508.80 L295.56,509.27 L296.59,509.36 L297.54,509.23 L298.42,508.87 L299.27,508.28 L300.10,507.25 L301.02,506.25 L302.04,505.76Z" fill="#fb1a20"/>
<path d="M263.10,545.90 L264.16,546.06 L265.18,546.55 L266.10,547.55 L266.93,548.58 L267.78,549.17 L268.66,549.53 L269.61,549.66 L270.64,549.57 L271.88,549.10 L273.18,548.69 L274.30,548.78 L275.30,549.17 L276.14,549.84 L276.78,550.77 L277.07,552.09 L277.28,553.40 L277.72,554.35 L278.30,555.10 L279.05,555.68 L280.00,556.12 L281.31,556.33 L282.63,556.62 L283.56,557.26 L284.23,558.10 L284.62,559.10 L284.71,560.22 L284.30,561.52 L283.83,562.76 L283.74,563.79 L283.87,564.74 L284.23,565.62 L284.82,566.47 L285.85,567.30 L286.85,568.22 L287.34,569.24 L287.50,570.30 L287.34,571.36 L286.85,572.38 L285.85,573.30 L284.82,574.13 L284.23,574.98 L283.87,575.86 L283.74,576.81 L283.83,577.84 L284.30,579.08 L284.71,580.38 L284.62,581.50 L284.23,582.50 L283.56,583.34 L282.63,583.98 L281.31,584.27 L280.00,584.48 L279.05,584.92 L278.30,585.50 L277.72,586.25 L277.28,587.20 L277.07,588.51 L276.78,589.83 L276.14,590.76 L275.30,591.43 L274.30,591.82 L273.18,591.91 L271.88,591.50 L270.64,591.03 L269.61,590.94 L268.66,591.07 L267.78,591.43 L266.93,592.02 L266.10,593.05 L265.18,594.05 L264.16,594.54 L263.10,594.70 L262.04,594.54 L261.02,594.05 L260.10,593.05 L259.27,592.02 L258.42,591.43 L257.54,591.07 L256.59,590.94 L255.56,591.03 L254.32,591.50 L253.02,591.91 L251.90,591.82 L250.90,591.43 L250.06,590.76 L249.42,589.83 L249.13,588.51 L248.92,587.20 L248.48,586.25 L247.90,585.50 L247.15,584.92 L246.20,584.48 L244.89,584.27 L243.57,583.98 L242.64,583.34 L241.97,582.50 L241.58,581.50 L241.49,580.38 L241.90,579.08 L242.37,577.84 L242.46,576.81 L242.33,575.86 L241.97,574.98 L241.38,574.13 L240.35,573.30 L239.35,572.38 L238.86,571.36 L238.70,570.30 L238.86,569.24 L239.35,568.22 L240.35,567.30 L241.38,566.47 L241.97,565.62 L242.33,564.74 L242.46,563.79 L242.37,562.76 L241.90,561.52 L241.49,560.22 L241.58,559.10 L241.97,558.10 L242.64,557.26 L243.57,556.62 L244.89,556.33 L246.20,556.12 L247.15,555.68 L247.90,555.10 L248.48,554.35 L248.92,553.40 L249.13,552.09 L249.42,550.77 L250.06,549.84 L250.90,549.17 L251.90,548.78 L253.02,548.69 L254.32,549.10 L255.56,549.57 L256.59,549.66 L257.54,549.53 L258.42,549.17 L259.27,548.58 L260.10,547.55 L261.02,546.55 L262.04,546.06Z" fill="#fb1a20"/>
<g transform="translate(734.50,208.88) scale(1.1289,1)"><text x="-1.62" y="0" clip-path="url(#n0)" font-weight="bold" font-size="25.8" fill="#fff" stroke="#fff" stroke-width="0.6" stroke-linejoin="round">1</text></g>
<g transform="translate(714.60,250.00) scale(1.0880,1)"><text x="-0.88" y="0" font-weight="bold" font-size="25.8" fill="#fff" stroke="#fff" stroke-width="0.6" stroke-linejoin="round">2</text></g>
<g transform="translate(714.60,291.90) scale(1.0880,1)"><text x="-0.88" y="0" font-weight="bold" font-size="25.8" fill="#fff" stroke="#fff" stroke-width="0.6" stroke-linejoin="round">2</text></g>
<g transform="translate(628.75,333.88) scale(1.0241,1)"><text x="-1.62 8.70" y="0" clip-path="url(#n3)" font-weight="bold" font-size="25.8" fill="#fff" stroke="#fff" stroke-width="0.6" stroke-linejoin="round">14</text></g>
<g transform="translate(579.70,375.70) scale(1.0846,1)"><text x="-0.88 13.22" y="0" font-weight="bold" font-size="25.8" fill="#fff" stroke="#fff" stroke-width="0.6" stroke-linejoin="round">24</text></g>
<g transform="translate(530.30,416.76) scale(1.1001,1)"><text x="-0.62 13.10" y="0" font-weight="bold" font-size="25.8" fill="#fff" stroke="#fff" stroke-width="0.6" stroke-linejoin="round">35</text></g>
<g transform="translate(387.50,456.90) scale(1.0772,1)"><text x="-0.38 14.22" y="0" font-weight="bold" font-size="25.8" fill="#fff" stroke="#fff" stroke-width="0.6" stroke-linejoin="round">48</text></g>
<g transform="translate(317.50,497.70) scale(1.0430,1)"><text x="-0.88 11.97" y="0" clip-path="url(#n7)" font-weight="bold" font-size="25.8" fill="#fff" stroke="#fff" stroke-width="0.6" stroke-linejoin="round">91</text></g>
<g transform="translate(286.27,538.90) scale(1.0939,1)"><text x="-1.62 8.07 20.80" y="0" clip-path="url(#n8)" font-weight="bold" font-size="25.8" fill="#fff" stroke="#fff" stroke-width="0.6" stroke-linejoin="round">101</text></g>
<g transform="translate(245.60,578.80) scale(1.0321,1)"><text x="-1.62 8.20 21.80" y="0" clip-path="url(#n9)" font-weight="bold" font-size="25.8" fill="#fff" stroke="#fff" stroke-width="0.6" stroke-linejoin="round">126</text></g>
<text transform="translate(68.29,606.3) scale(0.8557,1)" font-size="13.2" fill="#1a1a1a">*Puntuaciones van desde</text>
<text transform="translate(200.69,606.3) scale(1.0283,1)" font-size="13.2" fill="#1a1a1a">0 (los más corruptos) a</text>
<text transform="translate(344.51,606.3) scale(0.9927,1)" font-size="13.2" fill="#1a1a1a">100 (los más limpios)</text>
</svg>
</body></html>
